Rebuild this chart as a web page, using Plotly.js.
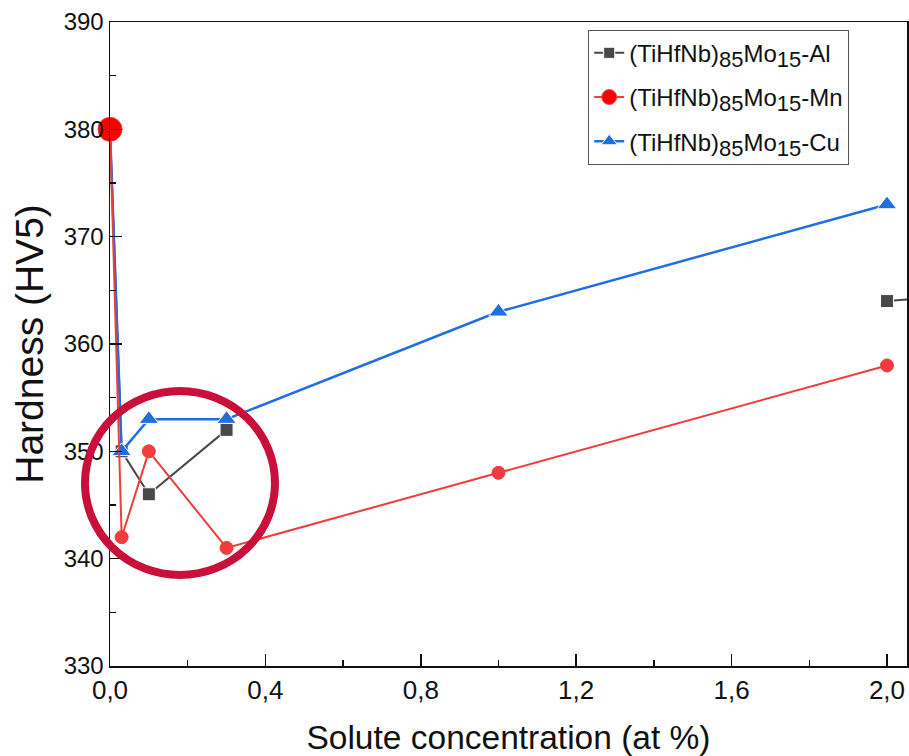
<!DOCTYPE html>
<html>
<head>
<meta charset="utf-8">
<script src="https://cdn.plot.ly/plotly-3.0.1.min.js"></script>
<style>html,body{margin:0;padding:0;background:#fff;}#chart{width:909px;height:756px;}</style>
</head>
<body>
<div id="chart"></div>
<script>
// Data (Al has no value at 1.0 at%, so its line is broken there)
const xAl = [0, 0.03, 0.1, 0.3, 1.0, 2.0, 3.0];
const yAl = [380, 350, 346, 352, null, 364, 367];
const xMn = [0, 0.03, 0.1, 0.3, 1.0, 2.0];
const yMn = [380, 342, 350, 341, 348, 358];
const xCu = [0, 0.03, 0.1, 0.3, 1.0, 2.0];
const yCu = [380, 350, 353, 353, 363, 373];
const SUB = (t) => "<sub><span style='font-size:22px'>" + t + "</span></sub>";
const names = [
  "(TiHfNb)" + SUB("85") + "Mo" + SUB("15") + "-Al",
  "(TiHfNb)" + SUB("85") + "Mo" + SUB("15") + "-Mn",
  "(TiHfNb)" + SUB("85") + "Mo" + SUB("15") + "-Cu"
];

const FONT = "Liberation Sans, Arial, sans-serif";

const traces = [
  {x: xAl, y: yAl, name: names[0], mode: "lines+markers", legendrank: 1, legendgroup: "a",
   connectgaps: false,
   line: {color: "#484848", width: 2},
   marker: {symbol: "square", size: [0, 13, 13, 13, 13, 13, 13], color: "#484848", opacity: 1}},
  {x: xCu, y: yCu, name: names[2], mode: "lines+markers", legendrank: 3, legendgroup: "c",
   line: {color: "#1f6fe0", width: 2.5},
   marker: {symbol: "triangle-up", size: [0, 17, 17, 17, 17, 17], color: "#1f6fe0", opacity: 1}},
  {x: xMn, y: yMn, name: names[1], mode: "lines+markers", legendrank: 2, legendgroup: "b", cliponaxis: false,
   line: {color: "#f03c3c", width: 2},
   marker: {symbol: "circle", size: [24, 13, 13, 13, 13, 13], opacity: 1,
            color: ["#ff0000", "#f03c3c", "#f03c3c", "#f03c3c", "#f03c3c", "#f03c3c"]}}
];

const layout = {
  width: 909, height: 756,
  margin: {l: 110, r: 2, t: 22, b: 90},
  paper_bgcolor: "#fff", plot_bgcolor: "#fff",
  separators: ",.",
  font: {family: FONT, color: "#111"},
  showlegend: true,
  legend: {x: 0.6, y: 0.988, xanchor: "left", yanchor: "top",
    traceorder: "grouped", tracegroupgap: 10,
    bordercolor: "#555", borderwidth: 1, bgcolor: "#fff",
    font: {family: FONT, size: 24, color: "#111"}},
  xaxis: {
    range: [0, 2.0515], dtick: 0.4, tick0: 0, tickformat: ".1f",
    showgrid: false, zeroline: false,
    showline: true, linecolor: "#111", linewidth: 1.5, mirror: true,
    ticks: "inside", ticklen: 12, tickwidth: 1.5, tickcolor: "#111",
    minor: {dtick: 0.2, ticks: "inside", ticklen: 6, tickwidth: 1.5, tickcolor: "#111", showgrid: false},
    tickfont: {family: FONT, size: 26, color: "#111"},
    title: {text: "Solute concentration (at %)", font: {family: FONT, size: 33.5, color: "#111"}, standoff: 22}
  },
  yaxis: {
    range: [330, 390], dtick: 10, tick0: 330,
    showgrid: false, zeroline: false,
    showline: true, linecolor: "#111", linewidth: 1.5, mirror: true,
    ticks: "inside", ticklen: 12, tickwidth: 1.5, tickcolor: "#111",
    minor: {dtick: 5, ticks: "inside", ticklen: 6, tickwidth: 1.5, tickcolor: "#111", showgrid: false},
    tickfont: {family: FONT, size: 24, color: "#111"},
    title: {text: "Hardness (HV5)", font: {family: FONT, size: 39, color: "#111"}, standoff: 8}
  },
  shapes: [
    {type: "circle", xref: "paper", yref: "paper",
     x0: -0.0314, x1: 0.207, y0: 0.1413, y1: 0.427,
     line: {color: "#c8103a", width: 8}, layer: "above"}
  ]
};

Plotly.newPlot("chart", traces, layout, {displayModeBar: false, staticPlot: true});
</script>
</body>
</html>
